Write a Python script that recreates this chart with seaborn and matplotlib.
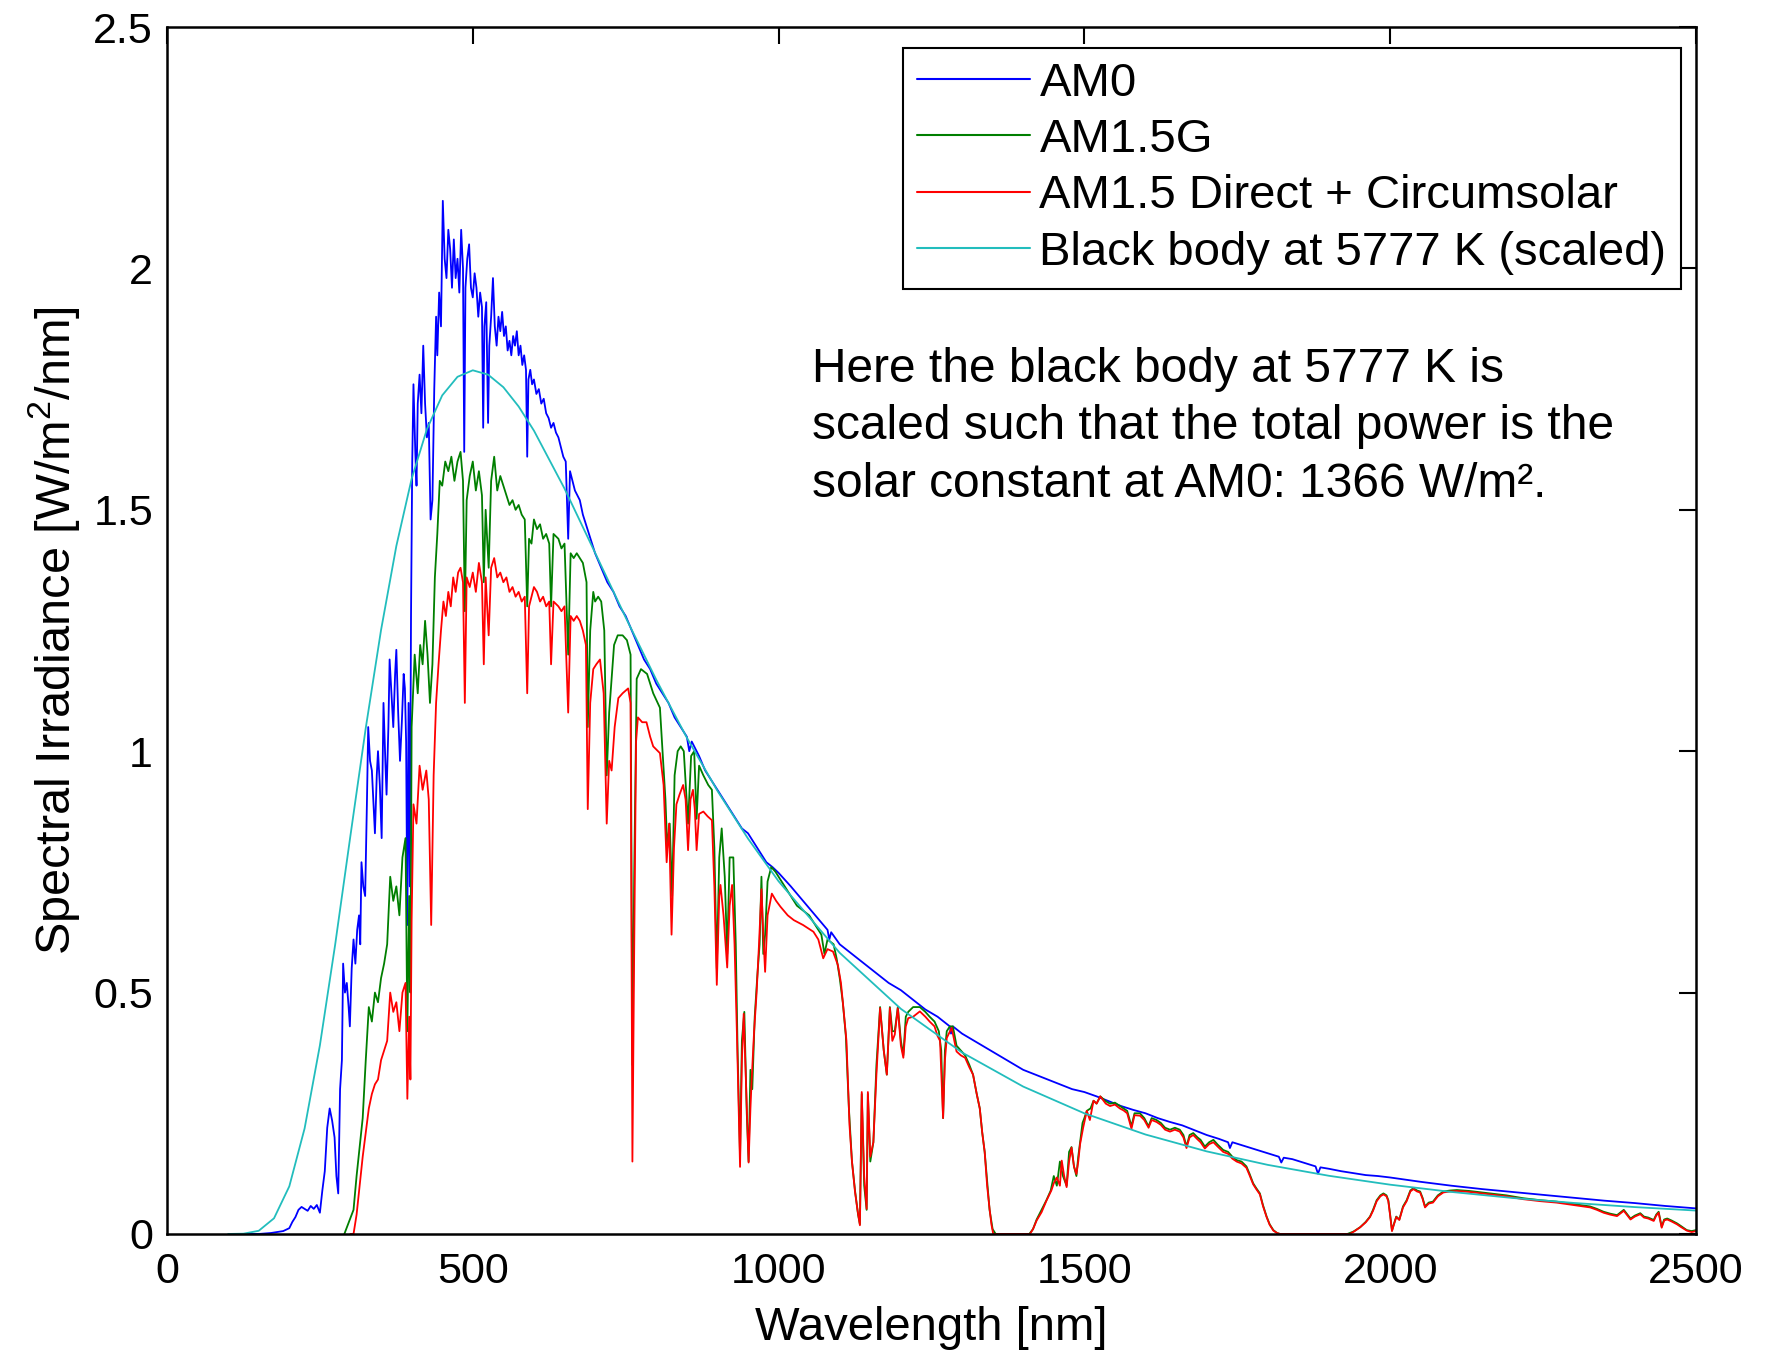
import numpy as np
import pandas as pd
import matplotlib
matplotlib.use("Agg")
import matplotlib.pyplot as plt
import seaborn as sns

# ---------------- spectral data (wavelength in nm, irradiance in W/m^2/nm) ----------------
am0_nm = [120, 150, 170, 190, 200, 205, 210, 215, 220, 225, 230, 235, 240, 245, 250, 254, 258, 262, 266,
          270, 274, 277, 280, 283, 286, 288, 291, 294, 297, 299, 302, 305, 308, 311, 314, 316, 318, 321,
          324, 327, 329, 332, 335, 338, 340, 343, 345, 348, 351, 354, 357, 359, 362, 364, 367, 370, 373,
          375, 378, 381, 384, 387, 389, 391, 393, 395, 397, 399, 401, 403, 406, 408, 410, 413, 416, 419,
          422, 425, 428, 431, 434, 437, 440, 442, 445, 448, 451, 454, 457, 460, 463, 466, 469, 472, 475,
          478, 481, 484, 486, 488, 491, 494, 497, 500, 503, 506, 509, 512, 515, 517, 519, 522, 525, 527,
          530, 533, 536, 539, 542, 545, 548, 551, 554, 557, 560, 563, 566, 569, 572, 575, 578, 581, 584,
          587, 589, 591, 594, 597, 600, 604, 608, 612, 616, 620, 624, 628, 632, 636, 640, 644, 648, 652,
          656, 659, 663, 667, 671, 675, 680, 685, 690, 695, 700, 710, 720, 730, 740, 750, 760, 770, 780,
          790, 800, 810, 820, 830, 840, 850, 854, 858, 866, 870, 880, 890, 900, 910, 920, 930, 940, 950,
          960, 970, 980, 990, 1000, 1020, 1040, 1060, 1080, 1083, 1086, 1100, 1120, 1140, 1160, 1180,
          1200, 1220, 1240, 1260, 1280, 1282, 1285, 1300, 1320, 1340, 1360, 1380, 1400, 1420, 1440, 1460,
          1480, 1500, 1520, 1540, 1560, 1580, 1600, 1620, 1640, 1660, 1680, 1700, 1720, 1735, 1738, 1742,
          1760, 1780, 1800, 1818, 1822, 1826, 1840, 1860, 1878, 1882, 1886, 1900, 1920, 1940, 1960, 1980,
          2000, 2050, 2100, 2150, 2200, 2250, 2300, 2350, 2400, 2450, 2500]
am0_val = [0.0, 0.0, 0.002, 0.006, 0.012, 0.025, 0.035, 0.05, 0.056, 0.052, 0.048, 0.058, 0.052, 0.06,
           0.044, 0.09, 0.13, 0.22, 0.26, 0.235, 0.2, 0.12, 0.084, 0.3, 0.36, 0.56, 0.5, 0.52, 0.47, 0.43,
           0.55, 0.61, 0.56, 0.63, 0.66, 0.6, 0.77, 0.72, 0.7, 0.9, 1.05, 0.98, 0.96, 0.88, 0.83, 0.95, 1.0,
           0.93, 0.82, 1.1, 0.98, 0.91, 1.05, 1.19, 1.12, 1.05, 1.16, 1.21, 1.08, 0.98, 1.06, 1.16, 1.13,
           1.02, 0.64, 1.1, 0.72, 1.28, 1.6, 1.76, 1.62, 1.55, 1.72, 1.78, 1.7, 1.84, 1.72, 1.65, 1.68,
           1.48, 1.52, 1.75, 1.9, 1.82, 1.95, 1.88, 2.14, 2.02, 1.98, 2.08, 2.04, 1.96, 2.06, 1.98, 2.02,
           1.95, 2.08, 2.0, 1.62, 1.96, 2.02, 2.05, 1.96, 1.94, 1.99, 1.96, 1.9, 1.95, 1.92, 1.67, 1.88,
           1.93, 1.68, 1.84, 1.9, 1.98, 1.88, 1.84, 1.9, 1.87, 1.91, 1.86, 1.88, 1.83, 1.85, 1.82, 1.86,
           1.84, 1.87, 1.82, 1.84, 1.8, 1.82, 1.79, 1.61, 1.77, 1.79, 1.76, 1.77, 1.74, 1.75, 1.72, 1.73,
           1.7, 1.69, 1.67, 1.68, 1.66, 1.65, 1.63, 1.61, 1.6, 1.44, 1.58, 1.56, 1.54, 1.53, 1.52, 1.49,
           1.47, 1.45, 1.43, 1.41, 1.38, 1.35, 1.33, 1.3, 1.28, 1.25, 1.22, 1.19, 1.17, 1.14, 1.12, 1.1,
           1.07, 1.05, 1.03, 1.0, 1.02, 1.0, 0.99, 0.96, 0.94, 0.92, 0.9, 0.88, 0.86, 0.84, 0.83, 0.81,
           0.79, 0.77, 0.76, 0.748, 0.72, 0.69, 0.66, 0.63, 0.61, 0.625, 0.6, 0.58, 0.56, 0.54, 0.52, 0.505,
           0.485, 0.465, 0.45, 0.43, 0.415, 0.43, 0.415, 0.4, 0.385, 0.37, 0.355, 0.34, 0.33, 0.32, 0.31,
           0.3, 0.294, 0.285, 0.275, 0.265, 0.257, 0.25, 0.24, 0.232, 0.225, 0.215, 0.205, 0.197, 0.19,
           0.178, 0.19, 0.183, 0.175, 0.167, 0.16, 0.148, 0.158, 0.155, 0.147, 0.14, 0.125, 0.138, 0.135,
           0.13, 0.126, 0.122, 0.12, 0.117, 0.108, 0.1, 0.093, 0.087, 0.081, 0.075, 0.069, 0.064, 0.058,
           0.053]

am15g_nm = [290, 305, 310, 315, 320, 325, 330, 335, 340, 345, 350, 355, 360, 365, 370, 375, 380, 385, 390,
            393, 396, 398, 400, 405, 410, 414, 418, 422, 426, 430, 434, 438, 442, 446, 450, 455, 460, 465,
            470, 475, 480, 484, 487, 490, 495, 500, 505, 510, 515, 518, 521, 526, 530, 535, 540, 545, 550,
            555, 560, 565, 570, 575, 580, 585, 589, 592, 596, 600, 605, 610, 615, 620, 625, 628, 632, 640,
            645, 650, 656, 660, 665, 670, 675, 680, 686, 688, 692, 697, 700, 705, 710, 715, 719, 723, 727,
            731, 737, 745, 752, 758, 761, 764, 768, 775, 785, 795, 806, 815, 818, 822, 826, 830, 835, 840,
            845, 852, 857, 862, 866, 870, 877, 885, 891, 895, 899, 903, 907, 912, 916, 920, 926, 930, 933,
            937, 940, 944, 948, 951, 954, 957, 961, 965, 969, 972, 975, 978, 982, 988, 995, 1000, 1010,
            1020, 1030, 1040, 1050, 1060, 1070, 1075, 1080, 1090, 1095, 1100, 1105, 1110, 1115, 1120, 1125,
            1130, 1133, 1136, 1140, 1144, 1146, 1150, 1155, 1160, 1166, 1172, 1177, 1182, 1186, 1190, 1195,
            1200, 1204, 1208, 1212, 1220, 1231, 1240, 1247, 1255, 1262, 1266, 1269, 1272, 1275, 1280, 1285,
            1291, 1298, 1305, 1312, 1318, 1324, 1329, 1333, 1337, 1341, 1345, 1350, 1355, 1410, 1416, 1422,
            1430, 1438, 1445, 1450, 1455, 1460, 1465, 1471, 1475, 1479, 1483, 1487, 1490, 1493, 1497, 1500,
            1504, 1510, 1515, 1520, 1526, 1535, 1542, 1550, 1558, 1564, 1570, 1577, 1582, 1591, 1598, 1605,
            1610, 1618, 1625, 1632, 1640, 1648, 1656, 1662, 1667, 1672, 1678, 1685, 1690, 1697, 1704, 1711,
            1718, 1727, 1735, 1742, 1749, 1757, 1765, 1770, 1776, 1781, 1787, 1792, 1798, 1803, 1809, 1815,
            1820, 1930, 1940, 1951, 1960, 1967, 1972, 1978, 1984, 1989, 1994, 1997, 2000, 2003, 2006, 2010,
            2015, 2021, 2027, 2033, 2038, 2044, 2049, 2053, 2057, 2063, 2070, 2078, 2087, 2098, 2109, 2130,
            2150, 2163, 2190, 2218, 2245, 2272, 2300, 2327, 2338, 2349, 2360, 2371, 2377, 2382, 2388, 2393,
            2400, 2409, 2415, 2422, 2431, 2435, 2439, 2444, 2448, 2453, 2460, 2469, 2476, 2485, 2493, 2500]
am15g_val = [0.0, 0.05, 0.12, 0.18, 0.24, 0.36, 0.47, 0.44, 0.5, 0.48, 0.53, 0.56, 0.6, 0.74, 0.69, 0.72,
             0.66, 0.78, 0.82, 0.42, 0.7, 0.5, 1.05, 1.2, 1.12, 1.22, 1.18, 1.27, 1.2, 1.1, 1.18, 1.36,
             1.45, 1.56, 1.55, 1.6, 1.58, 1.61, 1.56, 1.6, 1.62, 1.56, 1.29, 1.52, 1.57, 1.6, 1.54, 1.58,
             1.53, 1.35, 1.5, 1.38, 1.56, 1.61, 1.54, 1.57, 1.55, 1.53, 1.51, 1.52, 1.5, 1.51, 1.49, 1.48,
             1.3, 1.44, 1.43, 1.48, 1.46, 1.47, 1.44, 1.45, 1.43, 1.3, 1.45, 1.44, 1.42, 1.43, 1.2, 1.41,
             1.4, 1.41, 1.4, 1.39, 1.35, 1.05, 1.25, 1.33, 1.31, 1.32, 1.31, 1.25, 0.95, 1.08, 1.15, 1.22,
             1.24, 1.24, 1.23, 1.2, 0.35, 0.75, 1.15, 1.17, 1.16, 1.12, 1.09, 0.9, 0.8, 0.85, 0.7, 0.95,
             1.0, 1.01, 1.0, 0.85, 0.99, 1.0, 0.86, 0.97, 0.95, 0.93, 0.92, 0.8, 0.55, 0.78, 0.84, 0.74,
             0.58, 0.78, 0.78, 0.6, 0.38, 0.16, 0.4, 0.46, 0.25, 0.15, 0.34, 0.3, 0.45, 0.53, 0.6, 0.74,
             0.58, 0.62, 0.73, 0.76, 0.75, 0.74, 0.72, 0.7, 0.68, 0.67, 0.66, 0.64, 0.62, 0.58, 0.61, 0.6,
             0.57, 0.53, 0.48, 0.41, 0.26, 0.15, 0.09, 0.04, 0.02, 0.29, 0.1, 0.05, 0.29, 0.15, 0.19, 0.35,
             0.47, 0.38, 0.33, 0.47, 0.42, 0.42, 0.47, 0.4, 0.37, 0.45, 0.46, 0.47, 0.47, 0.46, 0.45, 0.44,
             0.42, 0.38, 0.24, 0.38, 0.42, 0.43, 0.43, 0.39, 0.38, 0.37, 0.35, 0.33, 0.29, 0.26, 0.21, 0.17,
             0.11, 0.05, 0.01, 0.0, 0.0, 0.01, 0.03, 0.05, 0.07, 0.09, 0.12, 0.1, 0.15, 0.12, 0.1, 0.17,
             0.18, 0.14, 0.12, 0.16, 0.19, 0.23, 0.24, 0.255, 0.26, 0.276, 0.27, 0.285, 0.275, 0.27, 0.272,
             0.265, 0.26, 0.255, 0.223, 0.25, 0.25, 0.24, 0.223, 0.24, 0.236, 0.23, 0.22, 0.216, 0.22,
             0.216, 0.205, 0.181, 0.205, 0.209, 0.2, 0.195, 0.181, 0.19, 0.195, 0.185, 0.174, 0.17, 0.16,
             0.153, 0.15, 0.14, 0.125, 0.105, 0.095, 0.084, 0.06, 0.036, 0.02, 0.008, 0.002, 0.0, 0.0,
             0.005, 0.014, 0.025, 0.036, 0.05, 0.07, 0.08, 0.084, 0.08, 0.07, 0.04, 0.007, 0.02, 0.036,
             0.03, 0.057, 0.07, 0.09, 0.095, 0.09, 0.088, 0.075, 0.057, 0.065, 0.067, 0.08, 0.088, 0.09,
             0.091, 0.089, 0.086, 0.084, 0.08, 0.074, 0.07, 0.067, 0.062, 0.057, 0.052, 0.046, 0.042,
             0.039, 0.045, 0.05, 0.04, 0.032, 0.038, 0.043, 0.036, 0.034, 0.029, 0.04, 0.046, 0.015, 0.03,
             0.032, 0.028, 0.022, 0.016, 0.008, 0.006, 0.008]

direct_nm = [300, 305, 310, 315, 320, 325, 330, 335, 340, 345, 350, 355, 360, 365, 370, 375, 380, 385, 390,
             393, 396, 398, 400, 403, 408, 413, 418, 424, 428, 432, 436, 440, 444, 448, 452, 456, 460, 464,
             468, 472, 476, 480, 484, 487, 490, 495, 500, 505, 510, 515, 518, 521, 526, 530, 535, 540, 545,
             550, 555, 560, 565, 570, 575, 580, 585, 589, 592, 596, 600, 605, 610, 615, 620, 625, 628, 632,
             640, 645, 650, 656, 660, 665, 670, 675, 680, 685, 688, 692, 697, 702, 708, 714, 719, 723, 727,
             732, 738, 745, 754, 758, 761, 764, 767, 770, 777, 784, 790, 795, 806, 812, 817, 821, 825, 829,
             833, 838, 844, 848, 852, 856, 860, 863, 866, 870, 877, 884, 891, 895, 899, 903, 905, 910, 916,
             920, 924, 928, 932, 935, 937, 940, 943, 947, 951, 954, 956, 960, 964, 968, 972, 975, 978, 982,
             989, 996, 1003, 1015, 1025, 1040, 1057, 1065, 1073, 1080, 1089, 1097, 1102, 1106, 1111, 1116,
             1120, 1125, 1129, 1133, 1136, 1140, 1144, 1146, 1150, 1155, 1160, 1166, 1172, 1177, 1182, 1186,
             1190, 1195, 1200, 1204, 1208, 1212, 1220, 1231, 1240, 1247, 1255, 1260, 1264, 1269, 1272, 1275,
             1283, 1291, 1298, 1305, 1312, 1318, 1324, 1329, 1333, 1337, 1341, 1345, 1348, 1351, 1411, 1416,
             1422, 1430, 1438, 1446, 1450, 1455, 1460, 1463, 1467, 1471, 1475, 1479, 1483, 1487, 1490, 1493,
             1498, 1504, 1509, 1515, 1520, 1526, 1535, 1542, 1550, 1558, 1564, 1570, 1577, 1582, 1591, 1598,
             1605, 1610, 1618, 1625, 1632, 1640, 1648, 1656, 1662, 1667, 1672, 1678, 1685, 1690, 1697, 1704,
             1711, 1718, 1727, 1735, 1742, 1749, 1757, 1765, 1770, 1776, 1781, 1787, 1792, 1798, 1803, 1809,
             1815, 1820, 1934, 1942, 1951, 1960, 1967, 1972, 1978, 1984, 1989, 1994, 1997, 2000, 2003, 2006,
             2010, 2015, 2021, 2027, 2033, 2038, 2044, 2049, 2053, 2057, 2063, 2070, 2078, 2087, 2098, 2109,
             2130, 2150, 2163, 2190, 2218, 2245, 2272, 2300, 2327, 2338, 2349, 2360, 2371, 2377, 2382, 2388,
             2393, 2400, 2409, 2415, 2422, 2431, 2435, 2439, 2444, 2448, 2453, 2460, 2469, 2476, 2485, 2493,
             2500]
direct_val = [0.0, 0.0, 0.04, 0.1, 0.16, 0.21, 0.26, 0.29, 0.31, 0.32, 0.36, 0.38, 0.4, 0.5, 0.46, 0.48,
              0.42, 0.5, 0.52, 0.28, 0.45, 0.32, 0.65, 0.89, 0.85, 0.97, 0.92, 0.96, 0.9, 0.64, 0.95, 1.1,
              1.18, 1.25, 1.31, 1.28, 1.33, 1.3, 1.36, 1.33, 1.37, 1.38, 1.35, 1.1, 1.36, 1.34, 1.37, 1.33,
              1.39, 1.35, 1.18, 1.36, 1.24, 1.38, 1.4, 1.36, 1.37, 1.35, 1.36, 1.33, 1.34, 1.32, 1.33, 1.31,
              1.32, 1.12, 1.3, 1.32, 1.34, 1.33, 1.31, 1.32, 1.3, 1.31, 1.18, 1.31, 1.3, 1.29, 1.3, 1.08,
              1.28, 1.27, 1.28, 1.27, 1.25, 1.22, 0.88, 1.1, 1.17, 1.18, 1.19, 1.12, 0.85, 0.98, 0.96, 1.05,
              1.11, 1.12, 1.13, 1.1, 0.15, 0.6, 1.02, 1.07, 1.06, 1.06, 1.03, 1.01, 0.996, 0.93, 0.77, 0.85,
              0.62, 0.8, 0.89, 0.91, 0.93, 0.9, 0.795, 0.9, 0.92, 0.88, 0.795, 0.87, 0.875, 0.865, 0.857,
              0.72, 0.516, 0.7, 0.723, 0.66, 0.552, 0.68, 0.723, 0.6, 0.41, 0.25, 0.139, 0.36, 0.456, 0.3,
              0.148, 0.26, 0.319, 0.42, 0.498, 0.6, 0.714, 0.62, 0.543, 0.66, 0.705, 0.69, 0.678, 0.66,
              0.65, 0.64, 0.626, 0.61, 0.571, 0.59, 0.585, 0.557, 0.52, 0.468, 0.4, 0.225, 0.15, 0.087,
              0.05, 0.018, 0.294, 0.12, 0.052, 0.294, 0.16, 0.19, 0.33, 0.468, 0.38, 0.33, 0.468, 0.4,
              0.413, 0.468, 0.39, 0.365, 0.43, 0.447, 0.45, 0.461, 0.45, 0.44, 0.43, 0.41, 0.4, 0.24, 0.36,
              0.406, 0.427, 0.378, 0.37, 0.365, 0.345, 0.33, 0.29, 0.26, 0.21, 0.17, 0.1, 0.052, 0.02, 0.0,
              0.0, 0.01, 0.028, 0.045, 0.069, 0.09, 0.105, 0.117, 0.1, 0.152, 0.12, 0.097, 0.15, 0.179,
              0.14, 0.124, 0.15, 0.186, 0.22, 0.255, 0.236, 0.276, 0.27, 0.285, 0.27, 0.265, 0.268, 0.26,
              0.256, 0.25, 0.218, 0.246, 0.245, 0.236, 0.22, 0.236, 0.232, 0.226, 0.216, 0.212, 0.216, 0.212,
              0.2, 0.178, 0.2, 0.205, 0.196, 0.19, 0.177, 0.186, 0.19, 0.181, 0.17, 0.166, 0.156, 0.15,
              0.146, 0.137, 0.122, 0.103, 0.093, 0.082, 0.058, 0.035, 0.019, 0.007, 0.002, 0.0, 0.0, 0.006,
              0.014, 0.024, 0.035, 0.048, 0.068, 0.078, 0.082, 0.078, 0.068, 0.038, 0.006, 0.019, 0.035,
              0.029, 0.055, 0.068, 0.088, 0.093, 0.088, 0.086, 0.073, 0.055, 0.063, 0.065, 0.078, 0.086,
              0.088, 0.089, 0.087, 0.084, 0.082, 0.078, 0.072, 0.068, 0.065, 0.06, 0.055, 0.05, 0.044,
              0.04, 0.037, 0.043, 0.048, 0.038, 0.03, 0.036, 0.041, 0.034, 0.032, 0.027, 0.038, 0.044,
              0.013, 0.028, 0.03, 0.026, 0.02, 0.014, 0.007, 0.004, 0.006]

blackbody_nm = [100, 125, 150, 175, 200, 225, 250, 275, 300, 325, 350, 375, 400, 425, 450, 475, 500, 525,
                550, 575, 600, 650, 700, 750, 800, 850, 900, 950, 1000, 1100, 1200, 1300, 1400, 1500, 1600,
                1700, 1800, 1900, 2000, 2100, 2200, 2300, 2400, 2500]
blackbody_val = [0.0, 0.0006, 0.0066, 0.0325, 0.0987, 0.2186, 0.3906, 0.5996, 0.8256, 1.048, 1.251, 1.425,
                 1.564, 1.667, 1.737, 1.7755, 1.789, 1.78, 1.754, 1.714, 1.664, 1.544, 1.411, 1.277, 1.148,
                 1.028, 0.918, 0.819, 0.7306, 0.5823, 0.4663, 0.3759, 0.3053, 0.2499, 0.206, 0.1711, 0.1431,
                 0.1205, 0.1021, 0.0871, 0.0746, 0.0643, 0.0557, 0.0485]

series_labels = ["AM0", "AM1.5G", "AM1.5 Direct + Circumsolar", "Black body at 5777 K (scaled)"]
series_colors = ["#0000FF", "#007F00", "#FF0000", "#22BDBD"]

x_ticks = [0, 500, 1000, 1500, 2000, 2500]
x_tick_labels = ["0", "500", "1000", "1500", "2000", "2500"]
y_ticks = [0, 0.5, 1.0, 1.5, 2.0, 2.5]
y_tick_labels = ["0", "0.5", "1", "1.5", "2", "2.5"]

note_text = ("Here the black body at 5777 K is\n"
             "scaled such that the total power is the\n"
             "solar constant at AM0: 1366 W/m\u00b2.")

# ---------------- styling ----------------
sns.set_theme(style="white")
plt.rcParams["font.family"] = ["Liberation Sans", "DejaVu Sans"]
plt.rcParams["mathtext.fontset"] = "custom"
plt.rcParams["mathtext.rm"] = "Liberation Sans"
plt.rcParams["mathtext.it"] = "Liberation Sans"
plt.rcParams["text.color"] = "black"
plt.rcParams["axes.labelcolor"] = "black"

fig = plt.figure(figsize=(17.69, 13.52), dpi=100)
ax = fig.add_axes([0.0944, 0.0873, 0.8643, 0.8927])

frames = [
    pd.DataFrame({"nm": am0_nm, "irr": am0_val}),
    pd.DataFrame({"nm": am15g_nm, "irr": am15g_val}),
    pd.DataFrame({"nm": direct_nm, "irr": direct_val}),
    pd.DataFrame({"nm": blackbody_nm, "irr": blackbody_val}),
]
for df, lab, col in zip(frames, series_labels, series_colors):
    sns.lineplot(data=df, x="nm", y="irr", ax=ax, color=col, linewidth=1.3,
                 label=lab, estimator=None, sort=False)

ax.set_xlim(0, 2500)
ax.set_ylim(0, 2.5)
ax.set_xticks(x_ticks)
ax.set_xticklabels(x_tick_labels)
ax.set_yticks(y_ticks)
ax.set_yticklabels(y_tick_labels)
ax.tick_params(direction="in", length=12, width=1.5, top=True, right=True,
               labelsize=31, colors="black")
ax.tick_params(axis="x", pad=13)
ax.tick_params(axis="y", pad=10)
for sp in ax.spines.values():
    sp.set_color("black")
    sp.set_linewidth(1.8)

ax.set_xlabel("Wavelength [nm]", fontsize=34, labelpad=10)
ax.set_ylabel("Spectral Irradiance [W/m$^2$/nm]", fontsize=35, labelpad=8)

leg = ax.legend(loc="upper right", bbox_to_anchor=(0.990, 0.983), borderaxespad=0,
                fontsize=34, frameon=True, fancybox=False, framealpha=1,
                handlelength=2.4, handletextpad=0.2, labelspacing=0.26, borderpad=0.3)
leg.get_frame().set_edgecolor("black")
leg.get_frame().set_linewidth(1.5)
for line in leg.get_lines():
    line.set_linewidth(1.5)

ax.text(0.4218, 0.735, note_text, transform=ax.transAxes, fontsize=34.5,
        ha="left", va="top", linespacing=1.36, color="black")

fig.savefig("out.png", dpi=100, facecolor="white")
